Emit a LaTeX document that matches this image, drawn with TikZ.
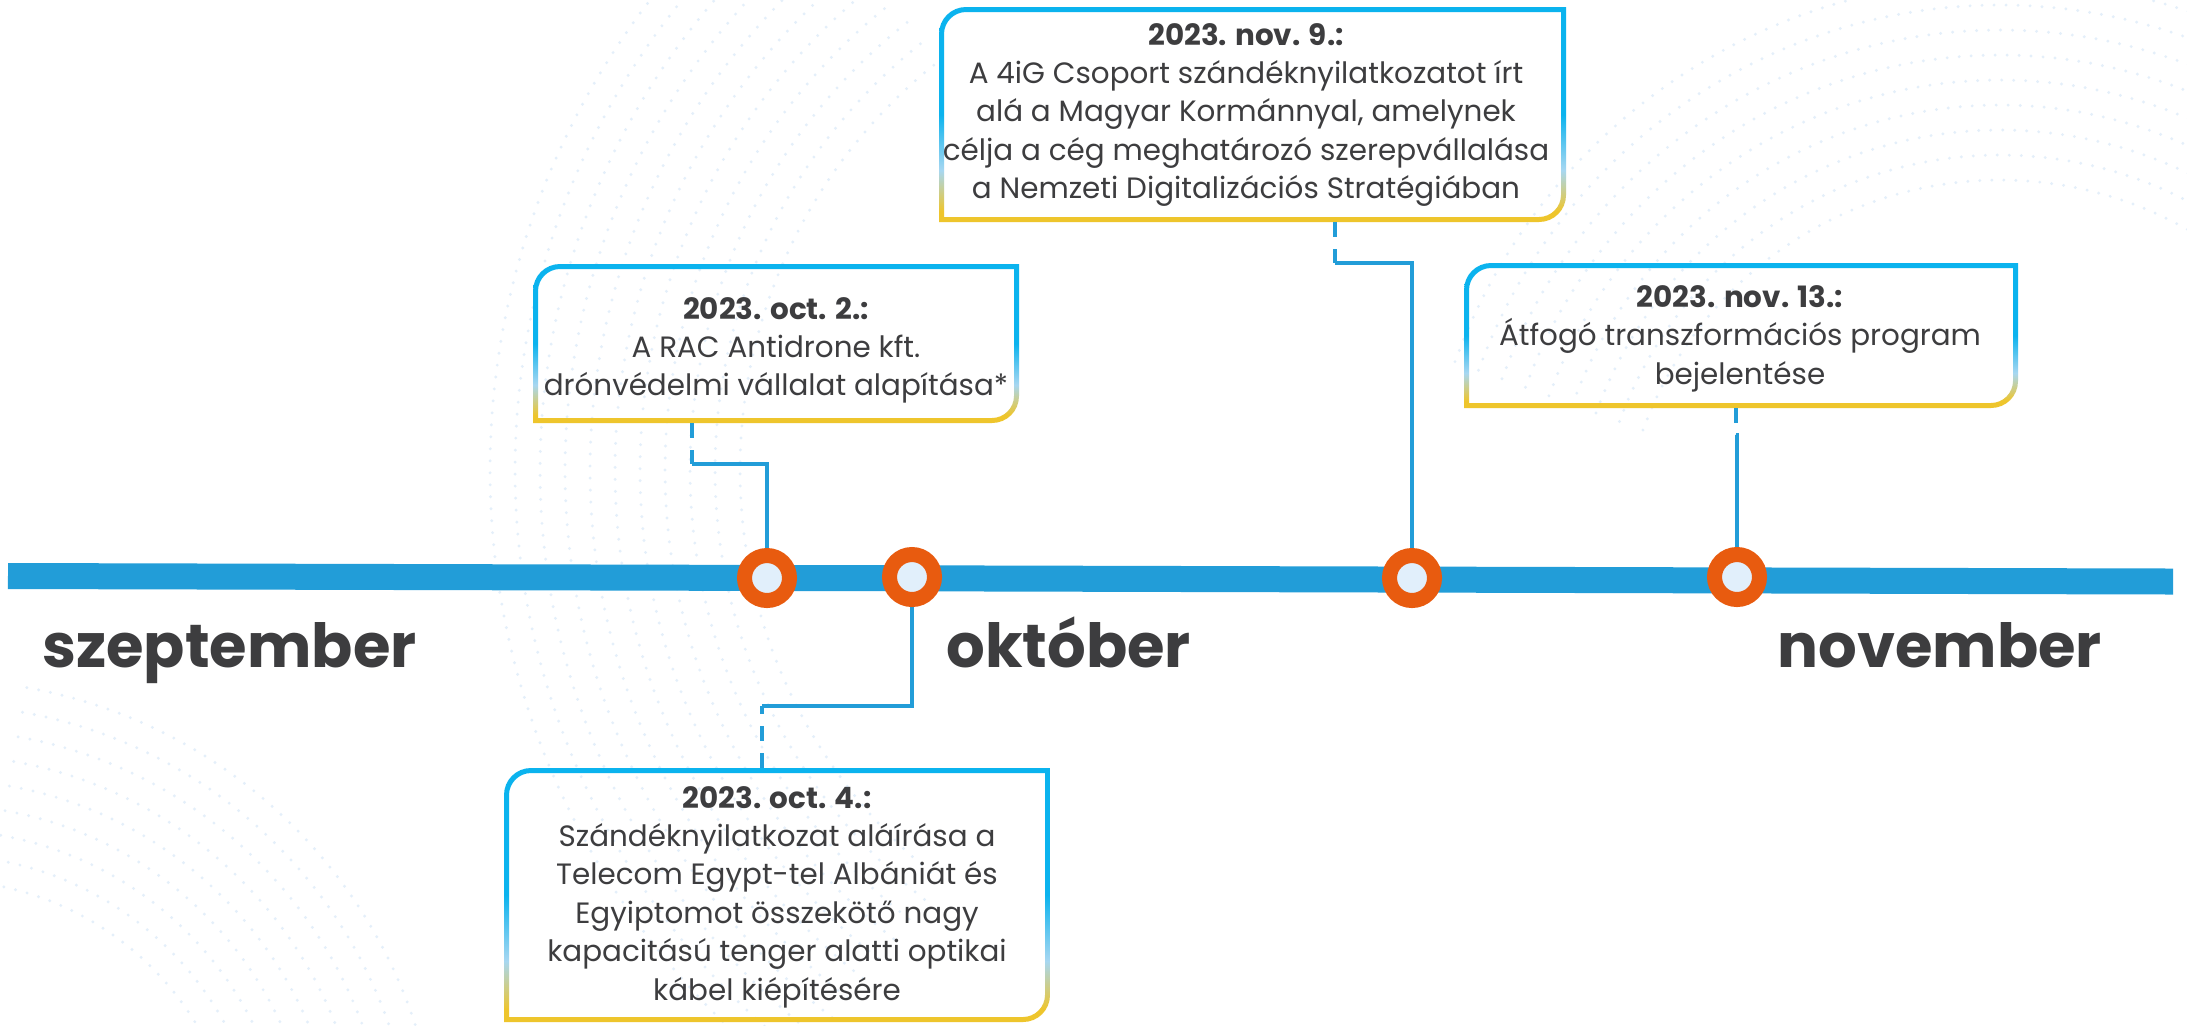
\documentclass[tikz,border=0pt]{standalone}
\usepackage{fontspec}
\setmainfont{Poppins}
\newfontfamily\monthfont{Poppins}
\usetikzlibrary{calc}
\definecolor{barblue}{RGB}{34,157,216}
\definecolor{ringorange}{RGB}{232,91,15}
\definecolor{ringfill}{RGB}{225,239,251}
\definecolor{textgray}{RGB}{61,61,63}
\definecolor{bblue}{RGB}{11,179,238}
\definecolor{lblue}{RGB}{167,215,241}
\definecolor{byellow}{RGB}{238,197,44}
\definecolor{dotcol}{RGB}{228,239,250}
\pgfdeclareverticalshading{bordershade}{100bp}{color(0bp)=(byellow); color(25bp)=(byellow); color(27.5bp)=(byellow); color(37bp)=(lblue); color(50bp)=(bblue); color(75bp)=(bblue); color(100bp)=(bblue)}
\newcommand{\boxring}[4]{%
  \shade[shading=bordershade, even odd rule]
   (#1,#4) -- (#1,{#2+27}) .. controls (#1,{#2+12}) and ({#1+12},#2) .. ({#1+27},#2) -- (#3,#2) -- (#3,{#4-27}) .. controls (#3,{#4-12}) and ({#3-12},#4) .. ({#3-27},#4) -- cycle
   ({#1+5},{#4-5}) -- ({#1+5},{#2+27}) .. controls ({#1+5},{#2+15}) and ({#1+15},{#2+5}) .. ({#1+27},{#2+5}) -- ({#3-5},{#2+5}) -- ({#3-5},{#4-27}) .. controls ({#3-5},{#4-15}) and ({#3-15},{#4-5}) .. ({#3-27},{#4-5}) -- cycle;
}
\tikzset{
  conn/.style={draw=barblue, line width=1.65pt},
  dashconn/.style={conn, dash pattern=on 7.5pt off 6pt},
  ring/.style={circle, draw=ringorange, fill=ringfill, line width=7.5pt, minimum size=22.5pt, inner sep=0pt},
  boxarea/.style={rectangle, inner sep=0pt},
  evtext/.style={anchor=base, inner sep=0pt, text=textgray, font=\fontsize{14.7pt}{19.2pt}\selectfont},
  month/.style={anchor=base west, inner sep=0pt, text=textgray, font=\monthfont\bfseries\fontsize{30.4pt}{34pt}\selectfont},
  dots/.style={dotcol, line width=1.6pt, line cap=round, dash pattern=on 0pt off 6pt}
}
\begin{document}
\begin{tikzpicture}[x=0.5pt,y=-0.5pt]
\useasboundingbox (0,0) rectangle (2187,1025);
\fill[white] (0,0) rectangle (2187,1025);

% faint dotted background ripples
\foreach \r in {520,545,...,780}{
  \draw[dots] plot[domain=128:232, samples=40, smooth] ({1260+\r*cos(\x)},{470+\r*sin(\x)});
}
\foreach \r in {380,405,...,600}{
  \draw[dots] plot[domain=200:330, samples=40, smooth] ({2000+\r*cos(\x)},{560+\r*sin(\x)});
}
\foreach \r in {300,325,...,520}{
  \draw[dots] plot[domain=-80:10, samples=40, smooth] ({-60+\r*cos(\x)},{1180+\r*sin(\x)});
}

% box areas (named)
\node[boxarea, minimum width=243pt, minimum height=79.5pt] (b1) at (776,343.5) {};
\node[boxarea, minimum width=273pt, minimum height=127pt] (b2) at (777,895) {};
\node[boxarea, minimum width=313.5pt, minimum height=107.5pt] (b3) at (1252.5,114.5) {};
\node[boxarea, minimum width=277pt, minimum height=72.5pt] (b4) at (1741,335.5) {};

% box borders
\boxring{533}{264}{1019}{423}
\boxring{504}{768}{1050}{1022}
\boxring{939}{7}{1566}{222}
\boxring{1464}{263}{2018}{408}

% texts
\node[evtext] (t1) at (776,319) {\begin{tabular}[t]{@{}c@{}}\textbf{2023. oct. 2.:}\\A RAC Antidrone kft.\\drónvédelmi vállalat alapítása*\end{tabular}};
\node[evtext] (t2) at (777,808) {\begin{tabular}[t]{@{}c@{}}\textbf{2023. oct. 4.:}\\Szándéknyilatkozat aláírása a\\Telecom Egypt-tel Albániát és\\Egyiptomot összekötő nagy\\kapacitású tenger alatti optikai\\kábel kiépítésére\end{tabular}};
\node[evtext] (t3) at (1246,45) {\begin{tabular}[t]{@{}c@{}}\textbf{2023. nov. 9.:}\\A 4iG Csoport szándéknyilatkozatot írt\\alá a Magyar Kormánnyal, amelynek\\célja a cég meghatározó szerepvállalása\\a Nemzeti Digitalizációs Stratégiában\end{tabular}};
\node[evtext] (t4) at (1740,307) {\begin{tabular}[t]{@{}c@{}}\textbf{2023. nov. 13.:}\\Átfogó transzformációs program\\bejelentése\end{tabular}};

% timeline bar
\coordinate (barL) at (8,576);
\coordinate (barR) at (2173,581.5);
\draw[barblue, line width=13pt] (barL) -- (barR);

% connector corners
\coordinate (k1) at (692,464);
\coordinate (k2) at (762,706);
\coordinate (k3) at (1335,263);
\coordinate (k4) at (1736,435);

% circles (positions)
\coordinate (p1) at (767,578);
\coordinate (p2) at (912,577);
\coordinate (p3) at (1412,578);
\coordinate (p4) at (1737,577);

% connectors
\draw[dashconn] (b1.south -| k1) -- (k1);
\draw[conn] (k1) -- (k1 -| p1) -- (p1);
\draw[dashconn] (b2.north -| k2) -- (k2);
\draw[conn] (k2) -- (k2 -| p2) -- (p2);
\draw[dashconn] (b3.south -| k3) -- (k3);
\draw[conn] (k3) -- (k3 -| p3) -- (p3);
\draw[dashconn] (b4.south -| k4) -- (k4);
\draw[conn] (k4) -- (k4 -| p4) -- (p4);

% ring markers
\node[ring] (c1) at (p1) {};
\node[ring] (c2) at (p2) {};
\node[ring] (c3) at (p3) {};
\node[ring] (c4) at (p4) {};

% months
\node[month] (m1) at (42,667) {szeptember};
\node[month] (m2) at (946,667) {október};
\node[month] (m3) at (1777,667) {november};
\end{tikzpicture}
\end{document}
